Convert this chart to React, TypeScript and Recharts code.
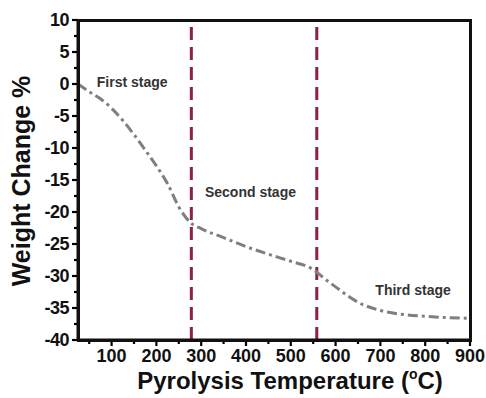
import {
	Line,
	LineChart,
	ReferenceDot,
	ReferenceLine,
	XAxis,
	YAxis,
} from "recharts";

const temps = [
	25, 50, 75, 100, 125, 150, 175, 200, 225, 250, 275, 300, 350, 400, 450, 500,
	550, 575, 600, 650, 700, 750, 800, 850, 900,
];
const weightChange = [
	0, -1.2, -2.3, -3.8, -5.7, -7.9, -10.3, -12.8, -15.6, -19.2, -21.6, -22.6,
	-24.0, -25.4, -26.6, -27.7, -29.0, -30.4, -31.7, -34.1, -35.4, -36.0, -36.3,
	-36.5, -36.6,
];
const stageBounds = [278, 558];
const stageNames = ["First stage", "Second stage", "Third stage"];
const stageLabelAt = [
	{ t: 146, w: 0.3 },
	{ t: 410, w: -16.9 },
	{ t: 773, w: -32.2 },
];
const xTicks = [
	50, 100, 150, 200, 250, 300, 350, 400, 450, 500, 550, 600, 650, 700, 750,
	800, 850, 900,
];
const yTicks = [
	-40, -37.5, -35, -32.5, -30, -27.5, -25, -22.5, -20, -17.5, -15, -12.5, -10,
	-7.5, -5, -2.5, 0, 2.5, 5, 7.5, 10,
];
const xDomain = [25, 900];
const yDomain = [-40, 10];

const data = temps.map((t, i) => ({ t, w: weightChange[i] }));

const FONT = "'Liberation Sans', Arial, sans-serif";
const MAROON = "#8e1f45";

const W = 486;
const H = 398;
const MARGIN = { top: 20, right: 16, bottom: 0, left: 0 };
const Y_AXIS_W = 78;
const X_AXIS_H = 58;

function XTick(props: any) {
	const { x, y, payload } = props;
	const major = payload.value % 100 === 0;
	const ay = y - 8;
	return (
		<g>
			<line stroke="#000" strokeWidth={2.2} x1={x} x2={x} y1={ay} y2={ay + (major ? 6 : 4)} />
			{major && (
				<text
					dy="0.71em"
					fill="#111"
					fontFamily={FONT}
					fontSize={18}
					fontWeight="bold"
					textAnchor="middle"
					x={x}
					y={y + 1}
				>
					{payload.value}
				</text>
			)}
		</g>
	);
}

function YTick(props: any) {
	const { x, y, payload } = props;
	const major = payload.value % 5 === 0;
	const ax = x + 8;
	return (
		<g>
			<line stroke="#000" strokeWidth={2.2} x1={ax} x2={ax - (major ? 6 : 4)} y1={y} y2={y} />
			{major && (
				<text
					dy="0.35em"
					fill="#111"
					fontFamily={FONT}
					fontSize={18}
					fontWeight="bold"
					letterSpacing={-0.5}
					textAnchor="end"
					x={x - 1}
					y={y}
				>
					{payload.value}
				</text>
			)}
		</g>
	);
}

function StageText({ name }: { name: string }) {
	return (props: any) => {
		const { viewBox } = props;
		return (
			<text
				dy="0.35em"
				fill="#333"
				fontFamily={FONT}
				fontSize={14}
				fontWeight="bold"
				textAnchor="middle"
				x={viewBox.x}
				y={viewBox.y}
			>
				{name}
			</text>
		);
	};
}

export default function App() {
	const plotX = MARGIN.left + Y_AXIS_W;
	const plotY = MARGIN.top;
	const plotW = W - MARGIN.right - plotX;
	const plotH = H - MARGIN.bottom - X_AXIS_H - plotY;
	return (
		<div style={{ position: "absolute", left: 0, top: 0, width: W, height: H, background: "#fff" }}>
			<LineChart data={data} height={H} margin={MARGIN} width={W}>
				<XAxis
					axisLine={{ stroke: "#111", strokeWidth: 3 }}
					dataKey="t"
					domain={xDomain}
					height={X_AXIS_H}
					interval={0}
					tick={<XTick />}
					tickLine={false}
					ticks={xTicks}
					type="number"
				/>
				<YAxis
					axisLine={{ stroke: "#111", strokeWidth: 3 }}
					domain={yDomain}
					interval={0}
					tick={<YTick />}
					tickLine={false}
					ticks={yTicks}
					type="number"
					width={Y_AXIS_W}
				/>
				{stageBounds.map((b) => (
					<ReferenceLine
						key={b}
						stroke={MAROON}
						strokeDasharray="13 7"
						strokeWidth={3}
						x={b}
					/>
				))}
				<Line
					dataKey="w"
					dot={false}
					isAnimationActive={false}
					stroke="#7f7f7f"
					strokeDasharray="10 4 3 4"
					strokeWidth={3}
					type="monotone"
				/>
				{stageNames.map((n, i) => (
					<ReferenceDot
						fill="none"
						key={n}
						label={StageText({ name: n })}
						r={0}
						stroke="none"
						x={stageLabelAt[i].t}
						y={stageLabelAt[i].w}
					/>
				))}
				<text
					fill="#111"
					fontFamily={FONT}
					fontSize={25}
					fontWeight="bold"
					textAnchor="middle"
					transform="translate(30,181) rotate(-90)"
					x={0}
					y={0}
				>
					Weight Change %
				</text>
				<text
					fill="#111"
					fontFamily={FONT}
					fontSize={24}
					fontWeight="bold"
					textAnchor="middle"
					x={290}
					y={389}
				>
					Pyrolysis Temperature (
					<tspan dy={-10} fontSize={14}>
						o
					</tspan>
					<tspan dy={10}>C)</tspan>
				</text>
			</LineChart>
			<div
				style={{
					position: "absolute",
					left: plotX - 1.5,
					top: plotY - 1.5,
					width: plotW + 3,
					height: plotH + 3,
					border: "3px solid #111",
					boxSizing: "border-box",
					pointerEvents: "none",
				}}
			/>
		</div>
	);
}
